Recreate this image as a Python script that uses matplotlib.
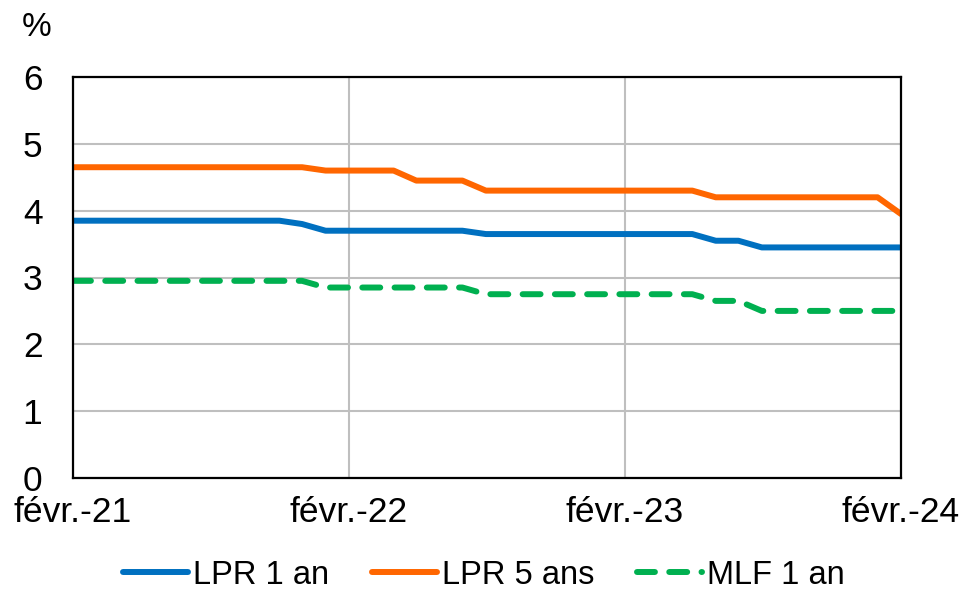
import numpy as np
import pandas as pd
import matplotlib
matplotlib.use('Agg')
import matplotlib.pyplot as plt

plt.rcParams['font.family'] = ['Liberation Sans', 'DejaVu Sans']

# monthly, févr. 2021 -> févr. 2024
months = pd.date_range('2021-02-01', '2024-02-01', freq='MS')

lpr_1 = [3.85] * 10 + [3.80] + [3.70] * 7 + [3.65] * 10 + [3.55] * 2 + [3.45] * 7
lpr_5 = [4.65] * 11 + [4.60] * 4 + [4.45] * 3 + [4.30] * 10 + [4.20] * 8 + [3.95]
mlf_1 = [2.95] * 11 + [2.85] * 7 + [2.75] * 10 + [2.65] * 2 + [2.50] * 7

tick_dates = pd.to_datetime(['2021-02-01', '2022-02-01', '2023-02-01', '2024-02-01'])
tick_labels = ['févr.-21', 'févr.-22', 'févr.-23', 'févr.-24']

fig = plt.figure(figsize=(9.68, 5.89), dpi=100)
ax = fig.add_axes([73 / 968, 1 - 478 / 589, 828 / 968, 401 / 589])

ax.plot(months, lpr_1, color='#0070C0', lw=4.3, label='LPR 1 an', solid_capstyle='round')
ax.plot(months, lpr_5, color='#FF6600', lw=4.3, label='LPR 5 ans', solid_capstyle='round')
ax.plot(months, mlf_1, color='#00B050', lw=4.3, ls=(0, (3.0, 2.4)), label='MLF 1 an',
        dash_capstyle='round')

ax.set_xlim(months[0], months[-1])
ax.set_ylim(0, 6)
ax.set_yticks(range(0, 7))
ax.set_xticks(tick_dates)
ax.set_xticklabels(tick_labels)

ax.grid(True, color='#BFBFBF', lw=1.5)
ax.set_axisbelow(True)
for s in ax.spines.values():
    s.set_color('black')
    s.set_linewidth(1.6)
ax.tick_params(axis='both', length=0, labelsize=25.5)
ax.tick_params(axis='y', pad=22)
ax.tick_params(axis='x', pad=13)

fig.text(37 / 968, 1 - 28 / 589, '%', fontsize=24, ha='center', va='center')

fig.legend(loc='center', bbox_to_anchor=(0.5, 1 - 575 / 589), ncol=3, frameon=False,
           fontsize=23.5, handlelength=2.0, handletextpad=0.15, columnspacing=1.3)

fig.savefig('out.png', dpi=100)
